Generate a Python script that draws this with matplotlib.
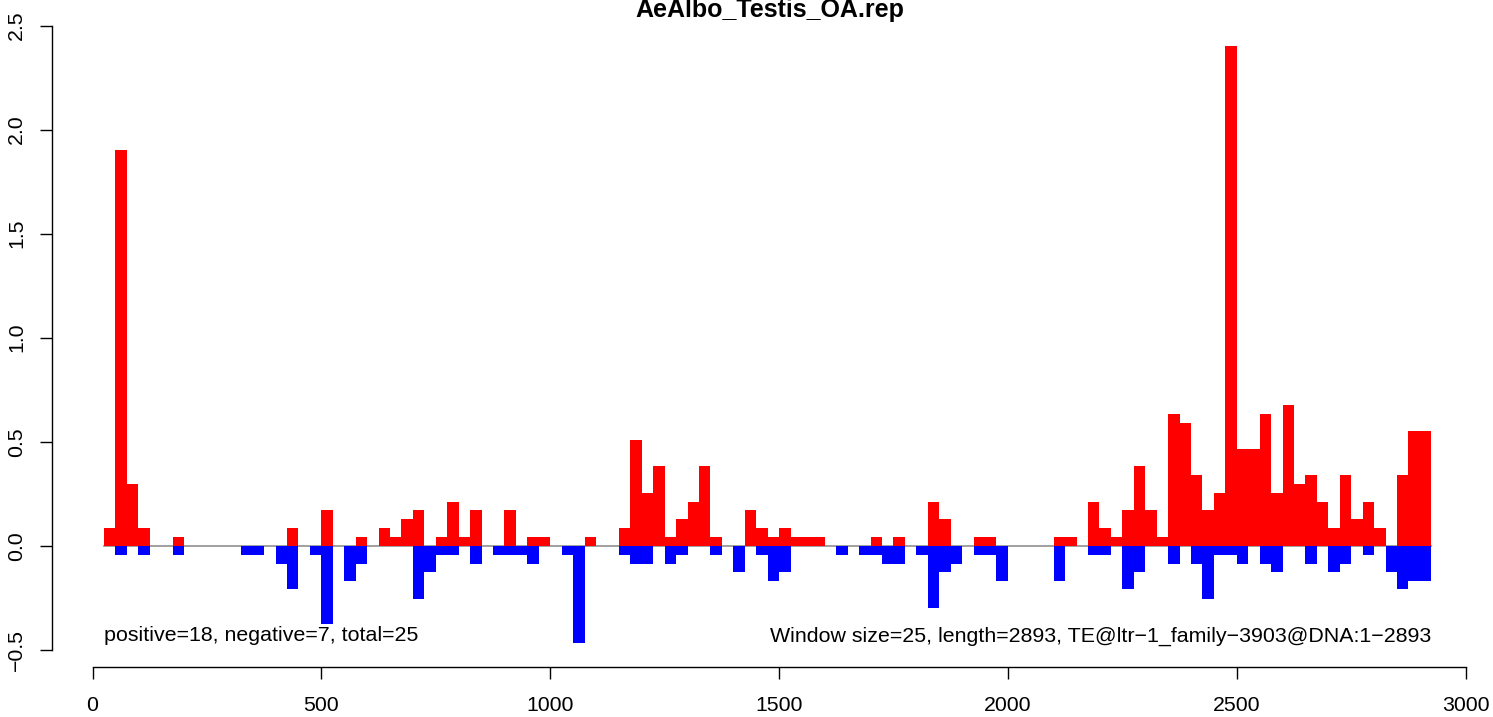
import numpy as np
import matplotlib
matplotlib.use("Agg")
from matplotlib import pyplot as plt

# window coverage, one value per 25 bp window starting at 25
win_size = 25
win_start = np.arange(1, 117) * win_size

pos_vals = [0.085, 1.90, 0.296, 0.085, 0, 0, 0.042, 0, 0, 0,
            0, 0, 0, 0, 0, 0, 0.085, 0, 0, 0.171,
            0, 0, 0.042, 0, 0.085, 0.042, 0.128, 0.171, 0, 0.042,
            0.21, 0.042, 0.171, 0, 0, 0.171, 0, 0.042, 0.042, 0,
            0, 0, 0.042, 0, 0, 0.085, 0.508, 0.253, 0.383, 0.042,
            0.128, 0.21, 0.383, 0.042, 0, 0, 0.171, 0.085, 0.042, 0.085,
            0.042, 0.042, 0.042, 0, 0, 0, 0, 0.042, 0, 0.042,
            0, 0, 0.21, 0.128, 0, 0, 0.042, 0.042, 0, 0,
            0, 0, 0, 0.042, 0.042, 0, 0.21, 0.085, 0.042, 0.171,
            0.383, 0.171, 0.042, 0.633, 0.59, 0.34, 0.171, 0.253, 2.40, 0.465,
            0.465, 0.633, 0.253, 0.676, 0.296, 0.34, 0.21, 0.085, 0.34, 0.128,
            0.21, 0.085, 0, 0.34, 0.551, 0.551]

neg_vals = [0, 0.043, 0, 0.043, 0, 0, 0.043, 0, 0, 0,
            0, 0, 0.043, 0.043, 0, 0.0865, 0.21, 0, 0.043, 0.376,
            0, 0.168, 0.0865, 0, 0, 0, 0, 0.255, 0.125, 0.043,
            0.043, 0, 0.0865, 0, 0.043, 0.043, 0.043, 0.0865, 0, 0,
            0.043, 0.466, 0, 0, 0, 0.043, 0.0865, 0.0865, 0, 0.0865,
            0.043, 0, 0, 0.043, 0, 0.125, 0, 0.043, 0.168, 0.125,
            0, 0, 0, 0, 0.043, 0, 0.043, 0.043, 0.0865, 0.0865,
            0, 0.043, 0.298, 0.125, 0.0865, 0, 0.043, 0.043, 0.168, 0,
            0, 0, 0, 0.168, 0, 0, 0.043, 0.043, 0, 0.21,
            0.125, 0, 0, 0.0865, 0, 0.0865, 0.255, 0.043, 0.043, 0.0865,
            0, 0.0865, 0.125, 0, 0, 0.0865, 0, 0.125, 0.0865, 0,
            0.043, 0, 0.125, 0.21, 0.168, 0.168]

title = "AeAlbo_Testis_OA.rep"
left_note = "positive=18, negative=7, total=25"
right_note = "Window size=25, length=2893, TE@ltr\u22121_family\u22123903@DNA:1\u22122893"
x_ticks = [0, 500, 1000, 1500, 2000, 2500, 3000]
y_ticks = [-0.5, 0.0, 0.5, 1.0, 1.5, 2.0, 2.5]

plt.rcParams['font.family'] = ['Liberation Sans', 'DejaVu Sans']

W, H = 1493, 717
fig = plt.figure(figsize=(W / 100, H / 100), dpi=100)
ax = fig.add_axes([52 / W, (H - 667) / H, 1436.5 / W, (667 - 21.5) / H])
ax.set_xlim(-88.5, 3050)
ax.set_ylim(-0.583, 2.52)

ax.plot([win_start[0], win_start[-1] + win_size], [0, 0], color='#999999', lw=1.3, zorder=1)
ax.bar(win_start, pos_vals, width=win_size, align='edge', color='#ff0000', lw=0, zorder=2)
ax.bar(win_start, -np.array(neg_vals), width=win_size, align='edge', color='#0000ff', lw=0, zorder=2)

for s in ['top', 'right']:
    ax.spines[s].set_visible(False)
ax.spines['left'].set_bounds(-0.5, 2.5)
ax.spines['bottom'].set_bounds(0, 3000)
ax.spines['left'].set_linewidth(1.0)
ax.spines['bottom'].set_linewidth(1.0)

ax.set_xticks(x_ticks)
ax.set_xticklabels([str(t) for t in x_ticks])
ax.set_yticks(y_ticks)
ax.set_yticklabels([f"{t:.1f}".replace('-', '\u2212') for t in y_ticks], rotation=90, va='center')
ax.tick_params(axis='both', direction='out', length=8.6, width=1.0, labelsize=15.3)
ax.tick_params(axis='x', pad=12)
ax.tick_params(axis='y', pad=10)

ax.text(25, -0.46, left_note, fontsize=15.4, ha='left', va='baseline')
ax.text(2925, -0.46, right_note, fontsize=15.4, ha='right', va='baseline')

fig.text(770 / W, (H - 17) / H, title, fontsize=18, fontweight='bold', ha='center', va='baseline')

fig.savefig('out.png', dpi=100)
